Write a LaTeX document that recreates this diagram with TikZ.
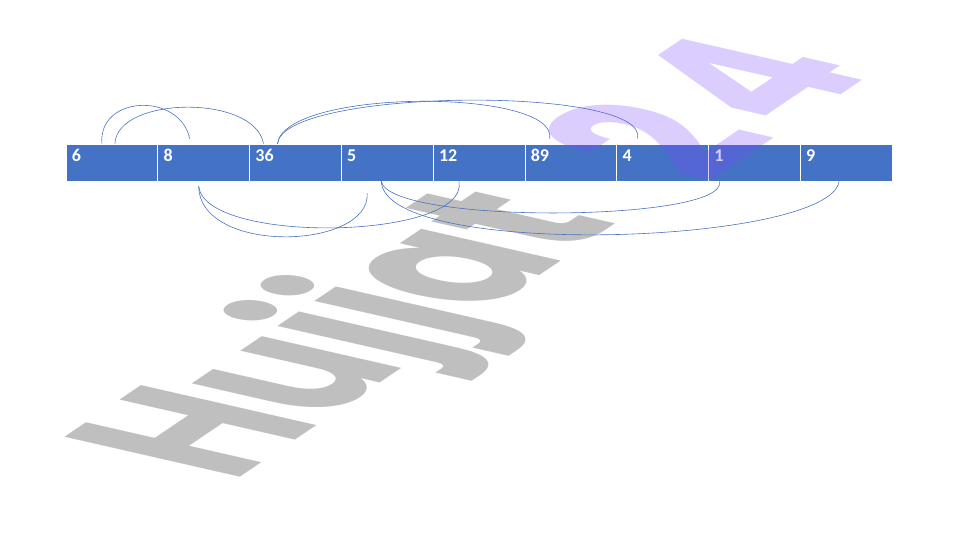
\documentclass[tikz,border=0pt]{standalone}
\usepackage{fontspec}
\setmainfont{Carlito}
\newfontfamily\wmfont{Poppins}
\usetikzlibrary{calc}
\definecolor{cellblue}{HTML}{4472C4}
\definecolor{arcblue}{HTML}{4A72C0}
\definecolor{wmgray}{HTML}{BFBFBF}
\definecolor{wmpurple}{HTML}{7F46FF}
\begin{document}
\begin{tikzpicture}[x=1pt,y=-1pt,
  cell/.style={rectangle, fill=cellblue, draw=white, line width=0.6pt,
    minimum width=91.78pt, minimum height=37pt, inner sep=0pt},
  num/.style={anchor=base west, inner sep=0pt, text=white,
    font=\bfseries\fontsize{18}{18}\selectfont},
  arc/.style={draw=arcblue, line width=0.6pt},
  wmtext/.style={transform shape, anchor=base west, inner sep=0pt,
    font=\wmfont\bfseries\fontsize{100}{100}\selectfont}]
\useasboundingbox (0,0) rectangle (961,540);
% watermark, grey part
\begin{scope}[cm={1.26,0.85,-2.5,0.57,(232,483)}]
  \node[wmtext, text=wmgray] (wmA) at (0,0) {Hujjat};
\end{scope}
% array cells
\foreach \v [count=\i] in {6,8,36,5,12,89,4,1,9} {
  \node[cell] (c\i) at ({66+91.78*(\i-0.5)},162.5) {};
  \node[num] (n\i) at ([xshift=6pt,yshift=-17.5pt]c\i.north west) {\v};
}
% arcs above
\draw[arc] ([xshift=-10pt]c1.north) .. controls (98,95) and (180,92) .. ([xshift=-14pt,yshift=5pt]c2.north);
\draw[arc] ([xshift=3pt]c1.north) .. controls (117,96) and (255,94) .. ([xshift=-32pt]c3.north);
\draw[arc] ([xshift=-18pt]c3.north) .. controls (285,88) and (558,88) .. ([xshift=-21pt,yshift=5pt]c6.north);
\draw[arc] ([xshift=-18pt]c3.north) .. controls (283,88) and (650,85) .. ([xshift=-25pt,yshift=5pt]c7.north);
% arcs below
\draw[arc] ([xshift=-5pt,yshift=-5pt]c2.south) .. controls (200,255) and (370,250) .. ([xshift=-20pt,yshift=-12pt]c4.south);
\draw[arc] ([xshift=-5pt,yshift=-5pt]c2.south) .. controls (205,245) and (470,240) .. ([xshift=-20pt]c5.south);
\draw[arc] ([xshift=-6pt]c4.south) .. controls (390,225) and (730,222) .. ([xshift=-35pt]c8.south);
\draw[arc] ([xshift=-6pt]c4.south) .. controls (385,260) and (830,245) .. ([xshift=-7pt]c9.south);
% watermark, purple part
\begin{scope}[cm={1.26,0.85,-2.5,0.57,(232,483)}]
  \node[wmtext, text=wmpurple, text opacity=0.27] (wmB) at (0,0)
    {\phantom{Hujjat}\kern50pt\raisebox{-10pt}{2\kern10pt 4}};
\end{scope}
\end{tikzpicture}
\end{document}
